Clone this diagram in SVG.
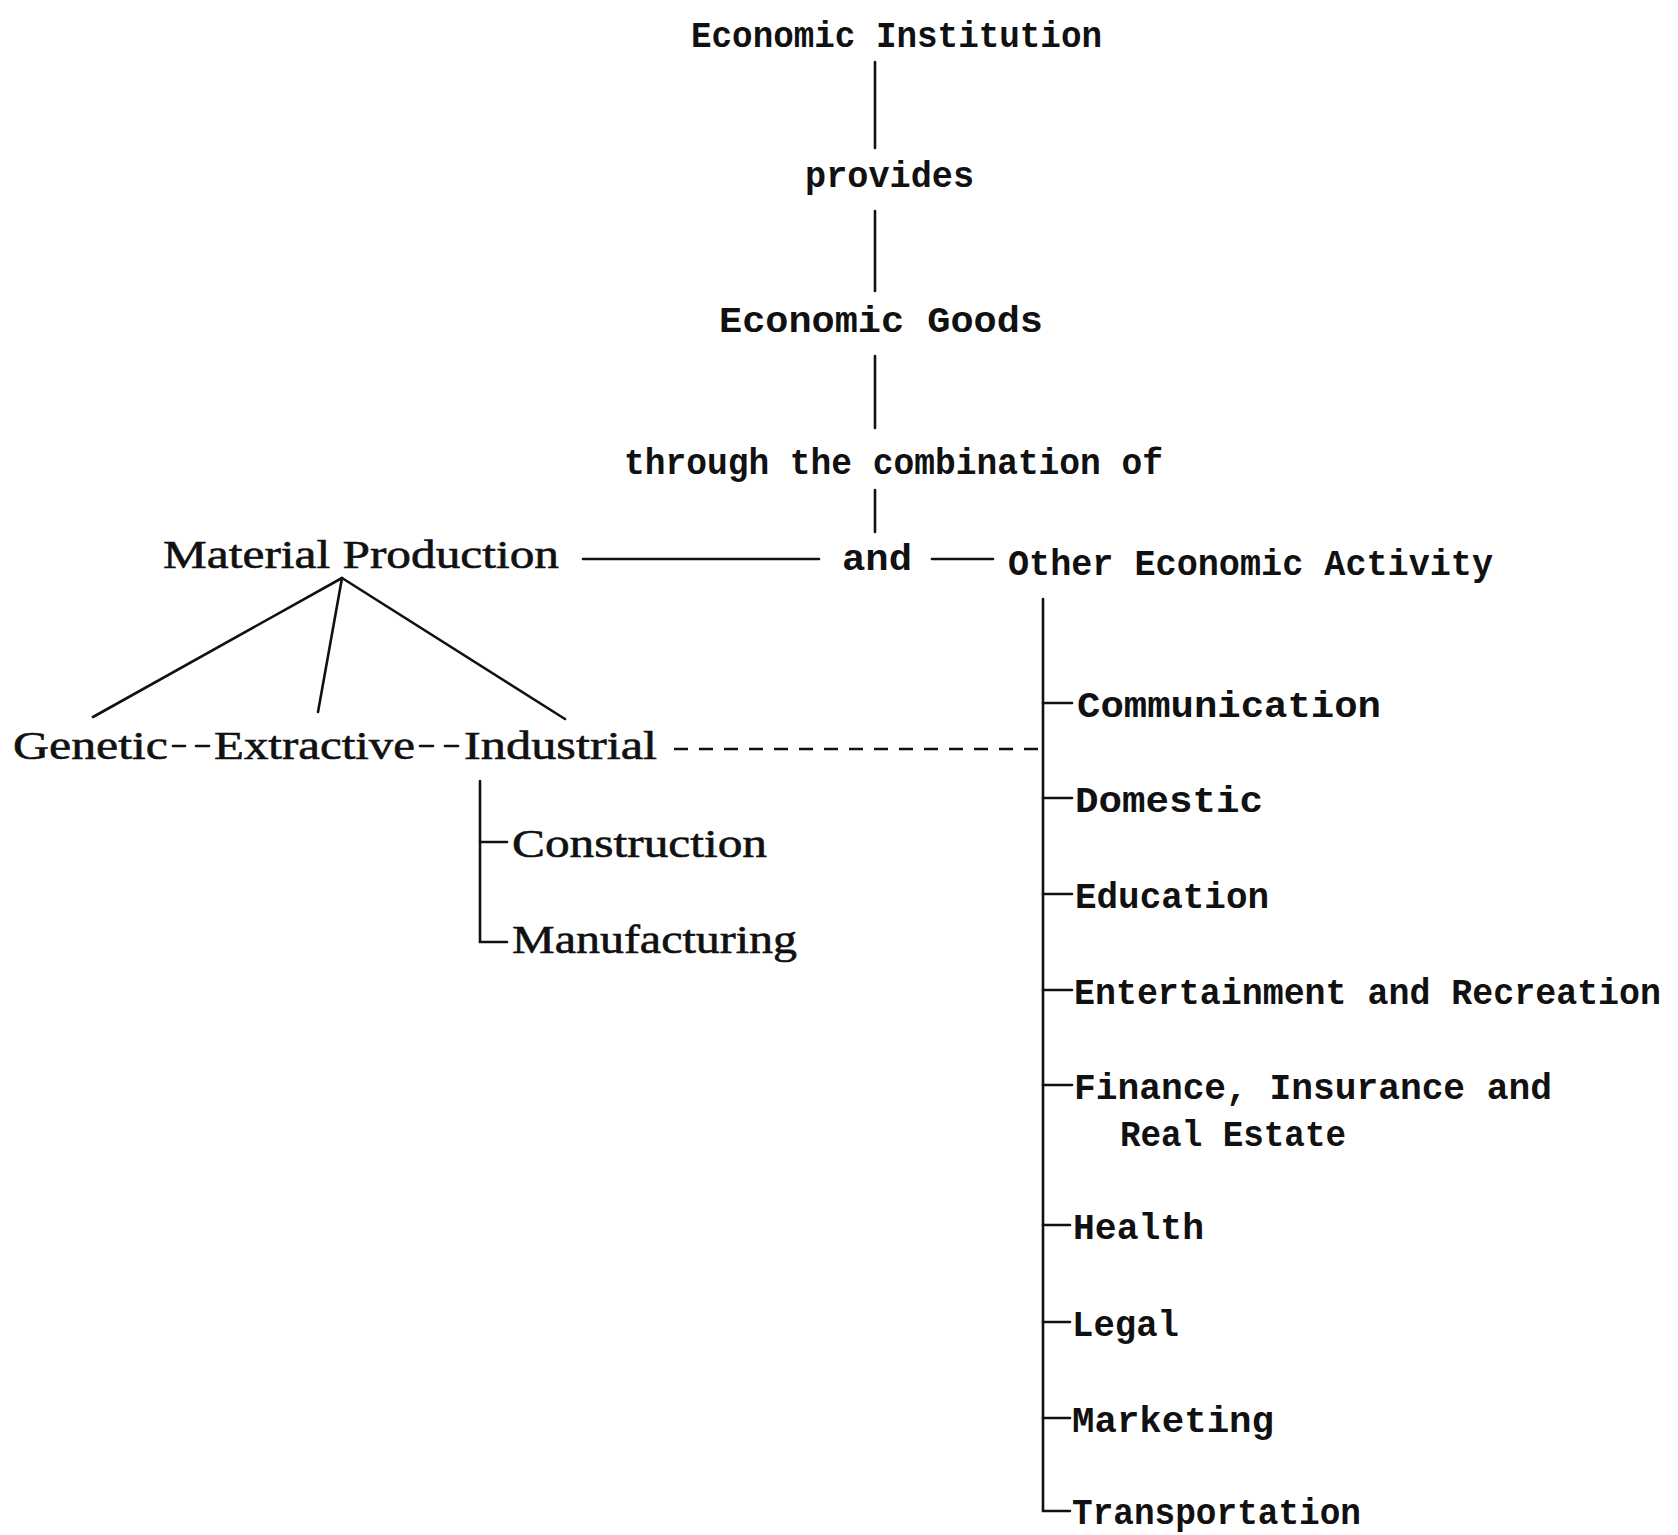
<svg xmlns="http://www.w3.org/2000/svg" width="1678" height="1535" viewBox="0 0 1678 1535">
<style>
.t{font-family:"Liberation Mono","Courier New",monospace;font-size:36px;font-weight:bold;fill:#111}
.c{font-family:"Liberation Serif","Times New Roman",serif;font-size:41px;fill:#111;stroke:#111;stroke-width:0.6}
.ln{stroke:#111;stroke-width:2.6;fill:none;stroke-linecap:round}
.dash{stroke:#111;stroke-width:2.6;fill:none;stroke-dasharray:14 11}
</style>
<rect width="1678" height="1535" fill="#fff"/>
<g id="connectors">
<line class="ln" x1="875" y1="62" x2="875" y2="148"/>
<line class="ln" x1="875" y1="211" x2="875" y2="291"/>
<line class="ln" x1="875" y1="356" x2="875" y2="428"/>
<line class="ln" x1="875" y1="490" x2="875" y2="532"/>
<line class="ln" x1="583" y1="559" x2="819" y2="559"/>
<line class="ln" x1="932" y1="559" x2="993" y2="559"/>
<line class="ln" x1="342" y1="578" x2="93" y2="717"/>
<line class="ln" x1="342" y1="578" x2="318" y2="712"/>
<line class="ln" x1="342" y1="578" x2="565" y2="719"/>
<line class="ln" x1="173" y1="746" x2="185" y2="746"/>
<line class="ln" x1="196" y1="746" x2="209" y2="746"/>
<line class="ln" x1="420" y1="746" x2="433" y2="746"/>
<line class="ln" x1="445" y1="746" x2="458" y2="746"/>
<line class="dash" x1="674" y1="749" x2="1043" y2="749"/>
<path class="ln" d="M480 781 V942 H507"/>
<line class="ln" x1="480" y1="842" x2="507" y2="842"/>
<path class="ln" d="M1043 599 V1511 H1070"/>
<line class="ln" x1="1043" y1="703" x2="1072" y2="703"/>
<line class="ln" x1="1043" y1="798" x2="1072" y2="798"/>
<line class="ln" x1="1043" y1="894" x2="1072" y2="894"/>
<line class="ln" x1="1043" y1="990" x2="1072" y2="990"/>
<line class="ln" x1="1043" y1="1085" x2="1072" y2="1085"/>
<line class="ln" x1="1043" y1="1225" x2="1070" y2="1225"/>
<line class="ln" x1="1043" y1="1322" x2="1070" y2="1322"/>
<line class="ln" x1="1043" y1="1418" x2="1070" y2="1418"/>
</g>
<g id="economic-institution"><text class="t" x="691" y="47" textLength="411" lengthAdjust="spacingAndGlyphs">Economic Institution</text></g>
<g id="provides"><text class="t" x="805" y="187" textLength="169" lengthAdjust="spacingAndGlyphs">provides</text></g>
<g id="economic-goods"><text class="t" x="719" y="332" textLength="324" lengthAdjust="spacingAndGlyphs">Economic Goods</text></g>
<g id="through"><text class="t" x="624" y="474" textLength="539" lengthAdjust="spacingAndGlyphs">through the combination of</text></g>
<g id="material-production"><text class="c" x="163" y="568" textLength="396" lengthAdjust="spacingAndGlyphs">Material Production</text></g>
<g id="and"><text class="t" x="842" y="570" textLength="70" lengthAdjust="spacingAndGlyphs">and</text></g>
<g id="other-economic-activity"><text class="t" x="1008" y="575" textLength="485" lengthAdjust="spacingAndGlyphs">Other Economic Activity</text></g>
<g id="genetic"><text class="c" x="13" y="759" textLength="155" lengthAdjust="spacingAndGlyphs">Genetic</text></g>
<g id="extractive"><text class="c" x="214" y="759" textLength="201" lengthAdjust="spacingAndGlyphs">Extractive</text></g>
<g id="industrial"><text class="c" x="464" y="759" textLength="193" lengthAdjust="spacingAndGlyphs">Industrial</text></g>
<g id="construction"><text class="c" x="512" y="857" textLength="255" lengthAdjust="spacingAndGlyphs">Construction</text></g>
<g id="manufacturing"><text class="c" x="512" y="953" textLength="285" lengthAdjust="spacingAndGlyphs">Manufacturing</text></g>
<g id="communication"><text class="t" x="1077" y="717" textLength="304" lengthAdjust="spacingAndGlyphs">Communication</text></g>
<g id="domestic"><text class="t" x="1075" y="812" textLength="188" lengthAdjust="spacingAndGlyphs">Domestic</text></g>
<g id="education"><text class="t" x="1075" y="908" textLength="194" lengthAdjust="spacingAndGlyphs">Education</text></g>
<g id="entertainment"><text class="t" x="1074" y="1004" textLength="587" lengthAdjust="spacingAndGlyphs">Entertainment and Recreation</text></g>
<g id="finance"><text class="t" x="1074" y="1099" textLength="478" lengthAdjust="spacingAndGlyphs">Finance, Insurance and</text><text class="t" x="1120" y="1146" textLength="226" lengthAdjust="spacingAndGlyphs">Real Estate</text></g>
<g id="health"><text class="t" x="1073" y="1239" textLength="131" lengthAdjust="spacingAndGlyphs">Health</text></g>
<g id="legal"><text class="t" x="1072" y="1336" textLength="107" lengthAdjust="spacingAndGlyphs">Legal</text></g>
<g id="marketing"><text class="t" x="1072" y="1432" textLength="202" lengthAdjust="spacingAndGlyphs">Marketing</text></g>
<g id="transportation"><text class="t" x="1072" y="1524" textLength="289" lengthAdjust="spacingAndGlyphs">Transportation</text></g>
</svg>
